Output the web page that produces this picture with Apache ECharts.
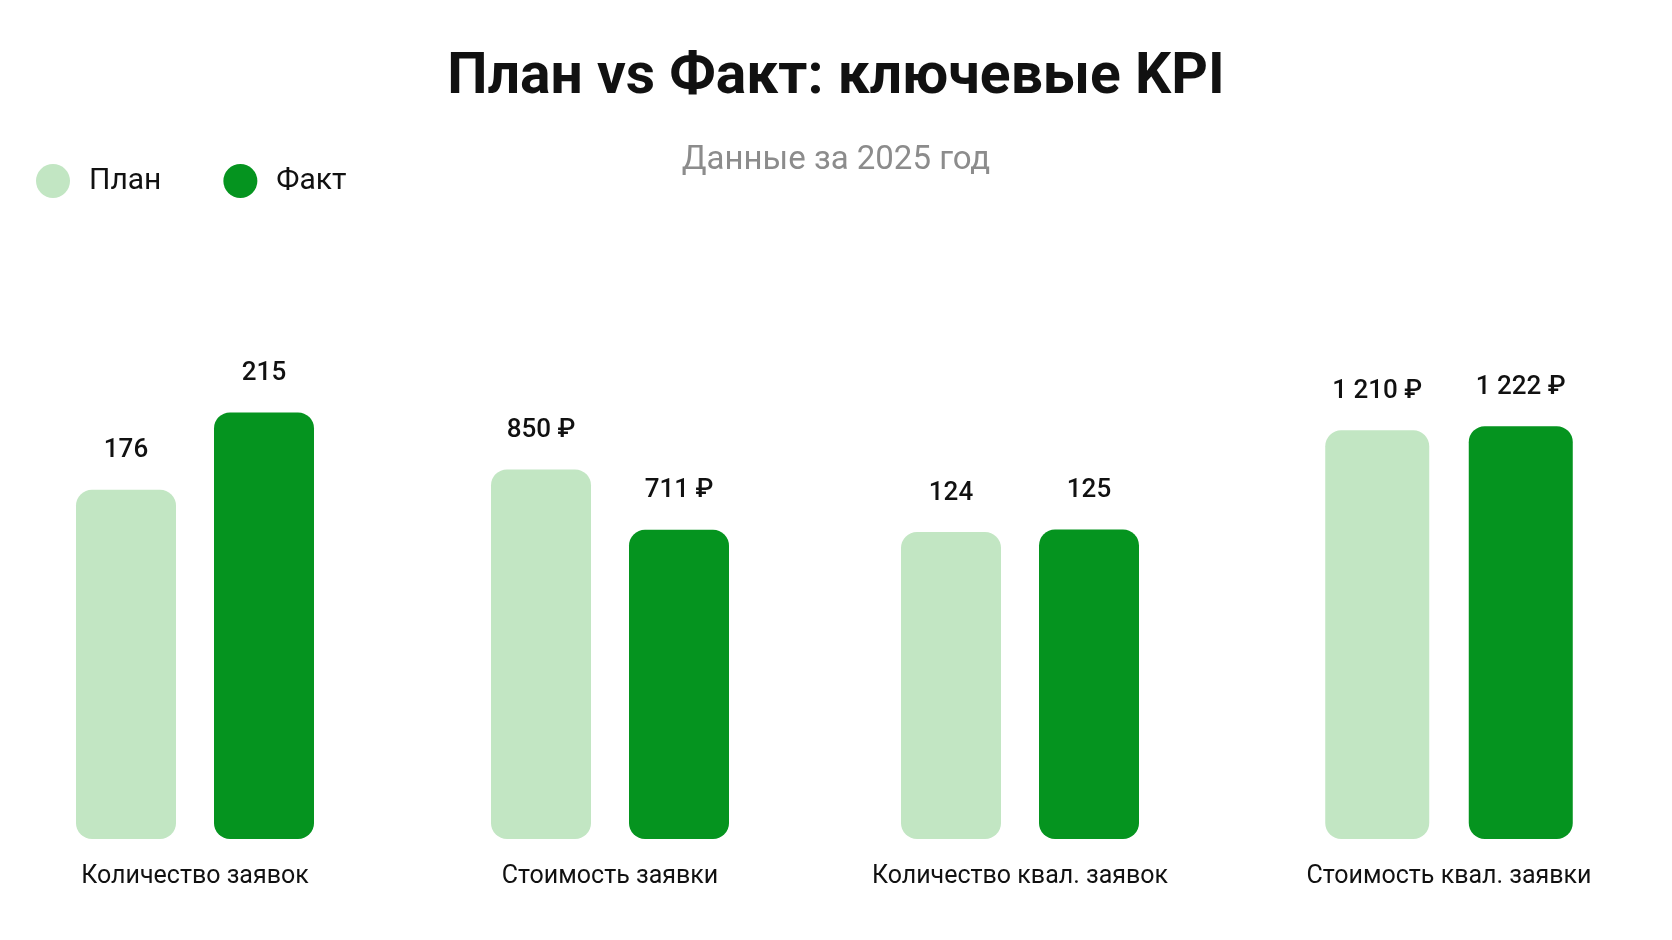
<!DOCTYPE html>
<html>
<head>
<meta charset="utf-8">
<script src="https://cdn.jsdelivr.net/npm/echarts@6/dist/echarts.min.js"></script>
<style>
	html, body { margin: 0; padding: 0; background: #fff; }
	#kpi { width: 1672px; height: 940px; }
</style>
</head>
<body>
<div id="kpi"></div>
<script>
// данные
var categories = ['Количество заявок', 'Стоимость заявки', 'Количество квал. заявок', 'Стоимость квал. заявки'];
var planValues = [176, 850, 124, 1210];
var factValues = [215, 711, 125, 1222];
var units = ['', ' ₽', '', ' ₽'];
// у каждой группы своя шкала
var axisMax = [252, 1150, 202, 1480];

var planColor = '#c2e6c3';
var factColor = '#05941f';
var groupCenters = [195, 610, 1020, 1449];
var barWidths = [100, 100, 100, 104];
var groupWidth = 320;

function fmt(v, unit) {
	return String(v).replace(/\B(?=(\d{3})+(?!\d))/g, ' ') + unit;
}

var myChart = echarts.init(document.getElementById('kpi'));

var grids = [], xAxes = [], yAxes = [], series = [];
for (var i = 0; i < categories.length; i++) {
	grids.push({
		left: groupCenters[i] - groupWidth / 2,
		width: groupWidth,
		top: 339,
		bottom: 101
	});
	xAxes.push({
		type: 'category',
		gridIndex: i,
		data: [categories[i]],
		axisLine: { show: false },
		axisTick: { show: false },
		axisLabel: {
			margin: 25,
			fontSize: 25,
			color: '#111',
			fontFamily: 'Roboto'
		}
	});
	yAxes.push({
		type: 'value',
		gridIndex: i,
		min: 0,
		max: axisMax[i],
		show: false,
		splitLine: { show: false }
	});
	(function(unit, bw) {
		var label = {
			show: true,
			position: 'top',
			distance: 26,
			fontSize: 26,
			fontWeight: 500,
			color: '#111',
			fontFamily: 'Roboto',
			formatter: function(p) { return fmt(p.value, unit); }
		};
		series.push({
			name: 'План',
			type: 'bar',
			xAxisIndex: i,
			yAxisIndex: i,
			barWidth: bw,
			barGap: '38%',
			itemStyle: { color: planColor, borderRadius: 16 },
			label: label,
			data: [planValues[i]]
		});
		series.push({
			name: 'Факт',
			type: 'bar',
			xAxisIndex: i,
			yAxisIndex: i,
			barWidth: bw,
			itemStyle: { color: factColor, borderRadius: 16 },
			label: label,
			data: [factValues[i]]
		});
	})(units[i], barWidths[i]);
}

option = {
	backgroundColor: '#fff',
	animation: false,
	color: [planColor, factColor],
	title: [{
		text: 'План vs Факт: ключевые KPI',
		left: 'center',
		top: 45,
		textStyle: { fontSize: 57, fontWeight: 'bold', color: '#111', fontFamily: 'Roboto' }
	}, {
		text: 'Данные за 2025 год',
		left: 'center',
		top: 139,
		textStyle: { fontSize: 33, fontWeight: 'normal', color: '#8c8c8c', fontFamily: 'Roboto' }
	}],
	legend: {
		left: 31,
		top: 159,
		icon: 'circle',
		itemWidth: 34,
		itemHeight: 34,
		itemGap: 62,
		data: ['План', 'Факт'],
		textStyle: { fontSize: 30, color: '#111', fontFamily: 'Roboto', padding: [0, 0, 0, 14] }
	},
	tooltip: { trigger: 'axis' },
	grid: grids,
	xAxis: xAxes,
	yAxis: yAxes,
	series: series
};
myChart.setOption(option);
</script>
</body>
</html>
